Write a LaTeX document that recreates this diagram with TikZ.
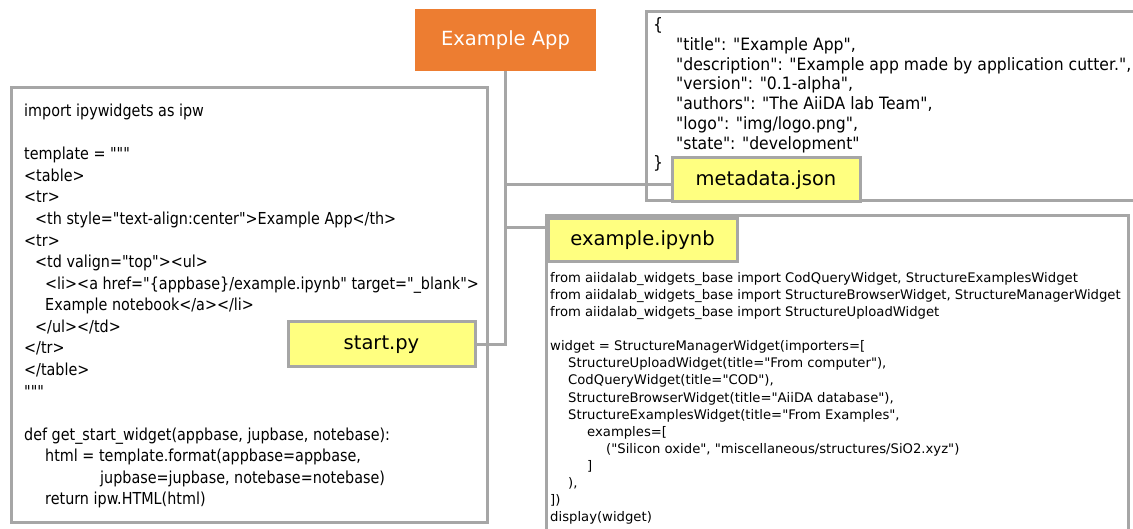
\documentclass[tikz,border=0pt]{standalone}
\usepackage{fontspec}
\setmainfont{DejaVu Sans}
\newfontfamily\labfont{DejaVu Sans}
\newfontfamily\codeLfont[FakeStretch=0.87]{DejaVu Sans}
\newfontfamily\codeMfont[FakeStretch=0.92]{DejaVu Sans}
\newfontfamily\codeNfont{DejaVu Sans}
\definecolor{appor}{HTML}{ED7D31}
\definecolor{lblyel}{HTML}{FFFF80}
\definecolor{brdgray}{HTML}{A6A6A6}
\tikzset{
  appbox/.style={fill=appor, draw=none, text=white, inner sep=0pt,
    font=\labfont\fontsize{19.5}{23}\selectfont},
  codebox/.style={draw=brdgray, line width=3pt, fill=white, inner sep=0pt},
  lblbox/.style={draw=brdgray, line width=3pt, fill=lblyel, inner sep=0pt,
    font=\labfont\fontsize{19.5}{23}\selectfont},
  conn/.style={draw=brdgray, line width=3pt},
  codeL/.style={anchor=north west, inner sep=0pt, align=left,
    font=\codeLfont\fontsize{16.5}{21.56}\selectfont},
  codeM/.style={anchor=north west, inner sep=0pt, align=left,
    font=\codeMfont\fontsize{17}{19.75}\selectfont},
  codeN/.style={anchor=north west, inner sep=0pt, align=left,
    font=\codeNfont\fontsize{13.2}{17.07}\selectfont},
}
\begin{document}
\begin{tikzpicture}[x=1pt,y=-1pt]
\useasboundingbox (0,0) rectangle (1133,529);
\clip (0,0) rectangle (1133,529);

% boxes
\node[appbox, minimum width=181pt, minimum height=62pt] (app) at (505.5,40) {Example App};
\node[codebox, minimum width=476pt, minimum height=434pt] (startbox) at (249,305) {};
\node[codebox, minimum width=494pt, minimum height=189pt] (metabox) at (893,106.5) {};
\node[codebox, minimum width=582pt, minimum height=329pt] (nbbox) at (837,380.5) {};

% connectors
\coordinate (metain) at (672,185);
\coordinate (nbin) at (546,228);
\draw[conn] (app.south |- metain) -- (metain);
\draw[conn] (app.south |- nbin) -- (nbin);

% labels
\node[lblbox, minimum width=187pt, minimum height=45pt] (start) at (381.5,344.5) {start.py};
\node[lblbox, minimum width=188pt, minimum height=44pt] (meta) at (766,180) {metadata.json};
\node[lblbox, minimum width=189pt, minimum height=43pt] (nb) at (642.5,240.5) {example.ipynb};
\draw[conn] (app.south) -- (app.south |- start.east) -- (start.east);

% code texts
\node[codeL] (starttxt) at (24,104) {import ipywidgets as ipw\\
\\
template = """\\
<table>\\
<tr>\\
\hspace*{11pt}<th style="text-align:center">Example App</th>\\
<tr>\\
\hspace*{11pt}<td valign="top"><ul>\\
\hspace*{21pt}<li><a href="\{appbase\}/example.ipynb" target="\_blank">\\
\hspace*{21pt}Example notebook</a></li>\\
\hspace*{11pt}</ul></td>\\
</tr>\\
</table>\\
"""\\
\\
def get\_start\_widget(appbase, jupbase, notebase):\\
\hspace*{21pt}html = template.format(appbase=appbase,\\
\hspace*{76pt}jupbase=jupbase, notebase=notebase)\\
\hspace*{21pt}return ipw.HTML(html)};

\node[codeM] (metatxt) at (653,17.5) {\{\\
\hspace*{23pt}"title": "Example App",\\
\hspace*{23pt}"description": "Example app made by application cutter.",\\
\hspace*{23pt}"version": "0.1-alpha",\\
\hspace*{23pt}"authors": "The AiiDA lab Team",\\
\hspace*{23pt}"logo": "img/logo.png",\\
\hspace*{23pt}"state": "development"\\
\}};

\node[codeN] (nbtxt) at (550,272.3) {from aiidalab\_widgets\_base import CodQueryWidget, StructureExamplesWidget\\
from aiidalab\_widgets\_base import StructureBrowserWidget, StructureManagerWidget\\
from aiidalab\_widgets\_base import StructureUploadWidget\\
\\
widget = StructureManagerWidget(importers=[\\
\hspace*{18pt}StructureUploadWidget(title="From computer"),\\
\hspace*{18pt}CodQueryWidget(title="COD"),\\
\hspace*{18pt}StructureBrowserWidget(title="AiiDA database"),\\
\hspace*{18pt}StructureExamplesWidget(title="From Examples",\\
\hspace*{37pt}examples=[\\
\hspace*{56pt}("Silicon oxide", "miscellaneous/structures/SiO2.xyz")\\
\hspace*{37pt}]\\
\hspace*{18pt}),\\
])\\
display(widget)};
\end{tikzpicture}
\end{document}
